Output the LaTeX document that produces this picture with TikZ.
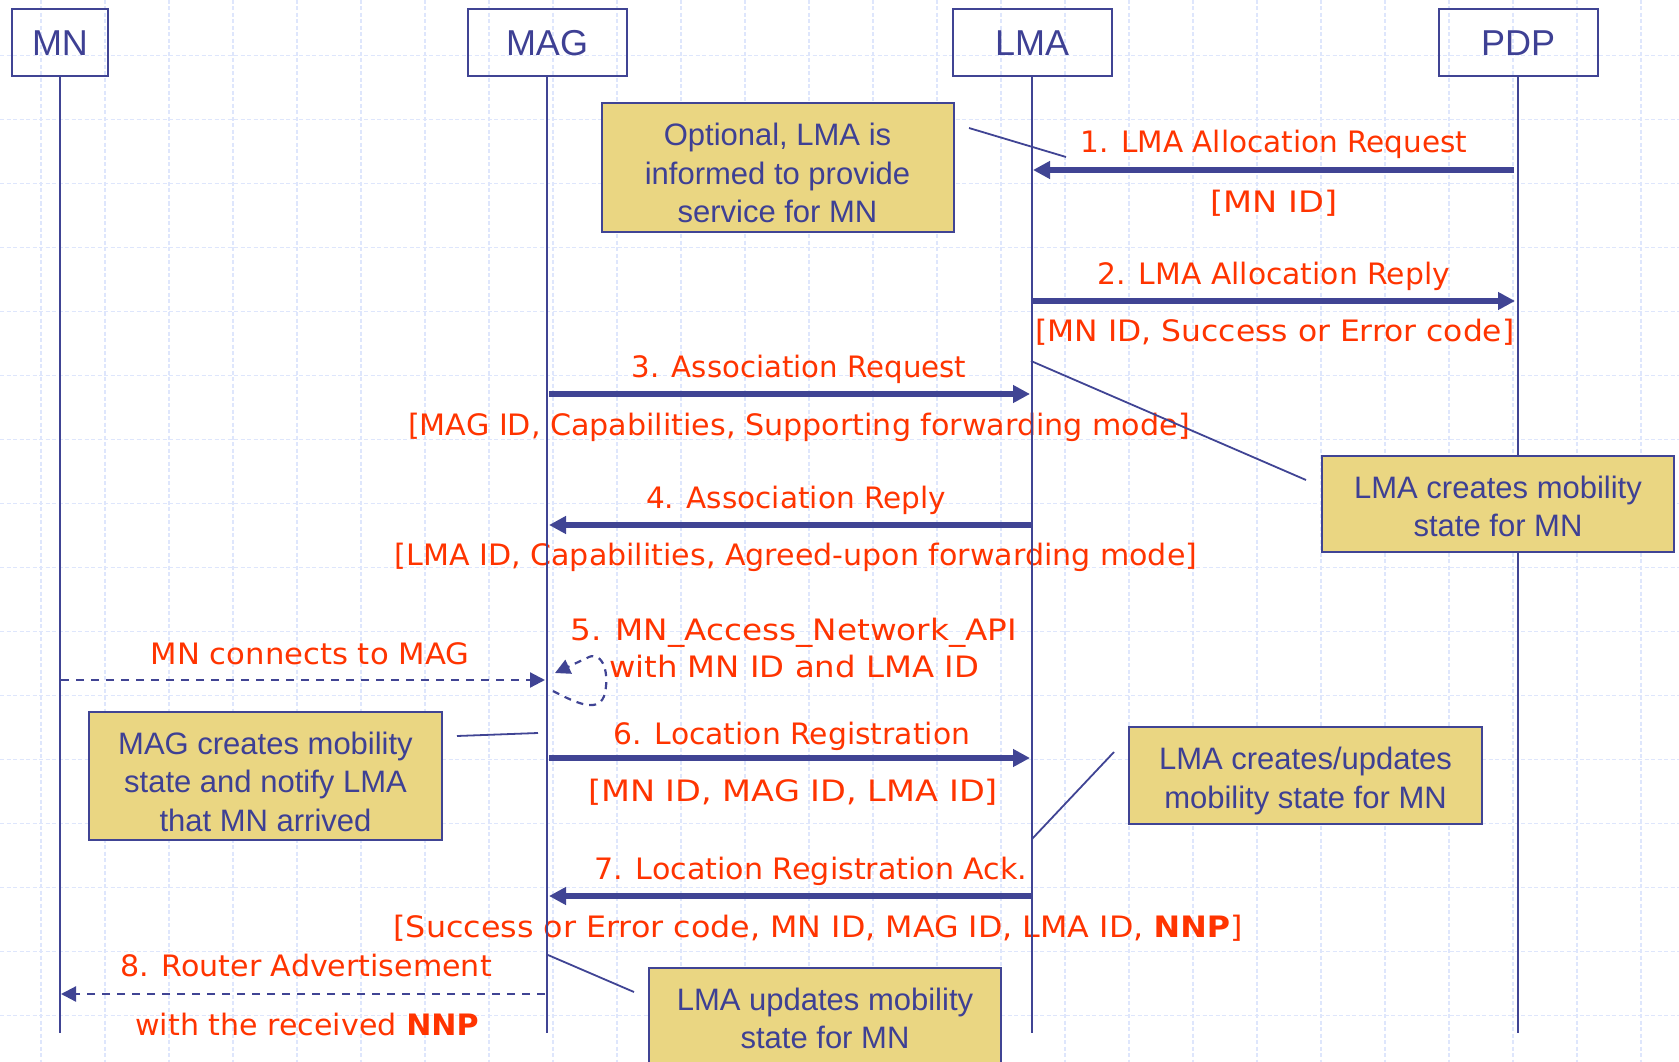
\documentclass[tikz,border=0pt]{standalone}
\usepackage{fontspec}
\usepackage{graphicx}
\setmainfont{Liberation Sans}
\newfontfamily\redfont{DejaVu Sans}
\usetikzlibrary{arrows.meta}
\definecolor{lineblue}{RGB}{64,68,148}
\definecolor{txtblue}{RGB}{62,64,148}
\definecolor{notefill}{RGB}{234,214,130}
\definecolor{msgred}{RGB}{255,52,0}
\definecolor{gridblue}{RGB}{222,230,252}
\newcommand{\hs}[2]{\scalebox{#1}[1]{#2}}
\begin{document}
\begin{tikzpicture}[x=1pt,y=-1pt,
  actor/.style={draw=lineblue, line width=2pt, minimum width=159pt, minimum height=67pt,
    text=txtblue, font=\fontsize{36}{40}\selectfont, inner sep=0pt, text height=27pt, text depth=0pt},
  note/.style={draw=lineblue, line width=2pt, fill=notefill, text=txtblue,
    font=\fontsize{31}{38.5}\selectfont, align=center, inner sep=0pt, text depth=0pt},
  note3/.style={note, minimum height=128pt, text height=110pt},
  note2/.style={note, minimum height=96pt, text height=65pt},
  lifeline/.style={lineblue, line width=1.8pt},
  msg/.style={lineblue, line width=5.5pt, -{Triangle[length=17pt,width=17pt]}},
  dmsg/.style={lineblue, line width=2.2pt, dash pattern=on 8pt off 7pt,
    -{Triangle[length=15pt,width=15pt]}},
  lbl/.style={text=msgred, font=\redfont\fontsize{29.5}{37}\selectfont, inner sep=0pt, anchor=base},
  pointer/.style={lineblue, line width=1.8pt},
  gridline/.style={gridblue, line width=1.3pt, dash pattern=on 4pt off 2.5pt},
]
\useasboundingbox (0,0) rectangle (1679,1062);
\fill[white] (0,0) rectangle (1679,1062);
\begin{scope}
\clip (0,0) rectangle (1679,1062);
% grid
\foreach \i in {0,...,25} { \draw[gridline] ({41+64*\i},0) -- ({41+64*\i},1062); }
\foreach \j in {0,...,15} { \draw[gridline] (0,{55.7+64*\j}) -- (1679,{55.7+64*\j}); }

% actors
\node[actor, minimum width=96pt] (mn) at (60,42.5) {MN};
\node[actor] (mag) at (547,42.5)  {MAG};
\node[actor] (lma) at (1032,42.5) {LMA};
\node[actor] (pdp) at (1518,42.5) {PDP};

% lifeline ends
\coordinate (mnE)  at (60,1033);
\coordinate (magE) at (547,1033);
\coordinate (lmaE) at (1032,1033);
\coordinate (pdpE) at (1518,1033);

% labels
\node[lbl] (l1a) at (1274,153) {1. LMA Allocation Request};
\node[lbl] (l1b) at (1274,212) {\hs{1.14}{[MN ID]}};
\node[lbl] (l2a) at (1274,284) {\hs{1.01}{2. LMA Allocation Reply}};
\node[lbl] (l2b) at (1275,341) {\hs{1.064}{[MN ID, Success or Error code]}};
\node[lbl] (l3a) at (799,377) {\hs{0.99}{3. Association Request}};
\node[lbl] (l3b) at (799,435) {\hs{1.022}{[MAG ID, Capabilities, Supporting forwarding mode]}};
\node[lbl] (l4a) at (796,508) {4. Association Reply};
\node[lbl] (l4b) at (796,565) {\hs{1.02}{[LMA ID, Capabilities, Agreed-upon forwarding mode]}};
\node[lbl] (lmn) at (310,664) {\hs{1.04}{MN connects to MAG}};
\node[lbl] (l5a) at (794,640) {\hs{1.107}{5. MN\_Access\_Network\_API}};
\node[lbl] (l5b) at (794,677) {\hs{1.096}{with MN ID and LMA ID}};
\node[lbl] (l6a) at (792,744) {\hs{1.01}{6. Location Registration}};
\node[lbl] (l6b) at (793,801) {\hs{1.137}{[MN ID, MAG ID, LMA ID]}};
\node[lbl] (l7a) at (811,879) {\hs{1.02}{7. Location Registration Ack.}};
\node[lbl] (l7b) at (818,937) {\hs{1.076}{[Success or Error code, MN ID, MAG ID, LMA ID, {\bfseries NNP}]}};
\node[lbl] (l8a) at (306,976) {\hs{1.02}{8. Router Advertisement}};
\node[lbl] (l8b) at (307,1035) {\hs{1.02}{with the received {\bfseries NNP}}};

% lifelines
\draw[lifeline] (mn.south) -- (mnE);
\draw[lifeline] (mag.south) -- (magE);
\draw[lifeline] (lma.south) -- (lmaE);
\draw[lifeline] (pdp.south) -- (pdpE);

% message anchor points
\coordinate (p1s) at (1514,170); \coordinate (p1e) at (1033,170);
\coordinate (p2s) at (1033,301); \coordinate (p2e) at (1515,301);
\coordinate (p3s) at (549,394);  \coordinate (p3e) at (1030,394);
\coordinate (p4s) at (1031,525); \coordinate (p4e) at (549,525);
\coordinate (pcs) at (61,680);   \coordinate (pce) at (545,680);
\coordinate (p6s) at (549,758);  \coordinate (p6e) at (1030,758);
\coordinate (p7s) at (1031,896); \coordinate (p7e) at (549,896);
\coordinate (p8s) at (545,994);  \coordinate (p8e) at (61,994);
\coordinate (p5s) at (553,691);  \coordinate (p5e) at (555,673);

\draw[msg] (p1s) -- (p1e);
\draw[msg] (p2s) -- (p2e);
\draw[msg] (p3s) -- (p3e);
\draw[msg] (p4s) -- (p4e);
\draw[dmsg] (pcs) -- (pce);
\draw[lineblue, line width=2.2pt, dash pattern=on 7pt off 6pt, -{Triangle[length=15pt,width=15pt]}]
  (p5s) .. controls (578,704) and (600,714) .. (605,693)
        .. controls (610,668) and (600,650) .. (587,658)
        .. controls (578,662) and (568,667) .. (p5e);
\draw[msg] (p6s) -- (p6e);
\draw[msg] (p7s) -- (p7e);
\draw[dmsg] (p8s) -- (p8e);

% notes
\node[note3, minimum width=352pt] (n1) at (777.5,167.5)
  {Optional, LMA is\\informed to provide\\service for MN};
\node[note2, minimum width=352pt] (n2) at (1498,504)
  {LMA creates mobility\\state for MN};
\node[note3, minimum width=353pt] (n3) at (265.5,776)
  {MAG creates mobility\\state and notify LMA\\that MN arrived};
\node[note2, minimum width=353pt, minimum height=97pt] (n4) at (1305.5,775.5)
  {LMA creates/updates\\mobility state for MN};
\node[note2, minimum width=352pt] (n5) at (825,1016)
  {LMA updates mobility\\state for MN};

% pointers
\coordinate (q1a) at (969,128);  \coordinate (q1b) at (1066,157);
\coordinate (q2a) at (1031,361); \coordinate (q2b) at (1306,480);
\coordinate (q3a) at (457,736);  \coordinate (q3b) at (538,733);
\coordinate (q4a) at (1032,839); \coordinate (q4b) at (1114,752);
\coordinate (q5a) at (548,955);  \coordinate (q5b) at (634,992);
\draw[pointer] (q1a) -- (q1b);
\draw[pointer] (q2a) -- (q2b);
\draw[pointer] (q3a) -- (q3b);
\draw[pointer] (q4a) -- (q4b);
\draw[pointer] (q5a) -- (q5b);
\end{scope}
\end{tikzpicture}
\end{document}
